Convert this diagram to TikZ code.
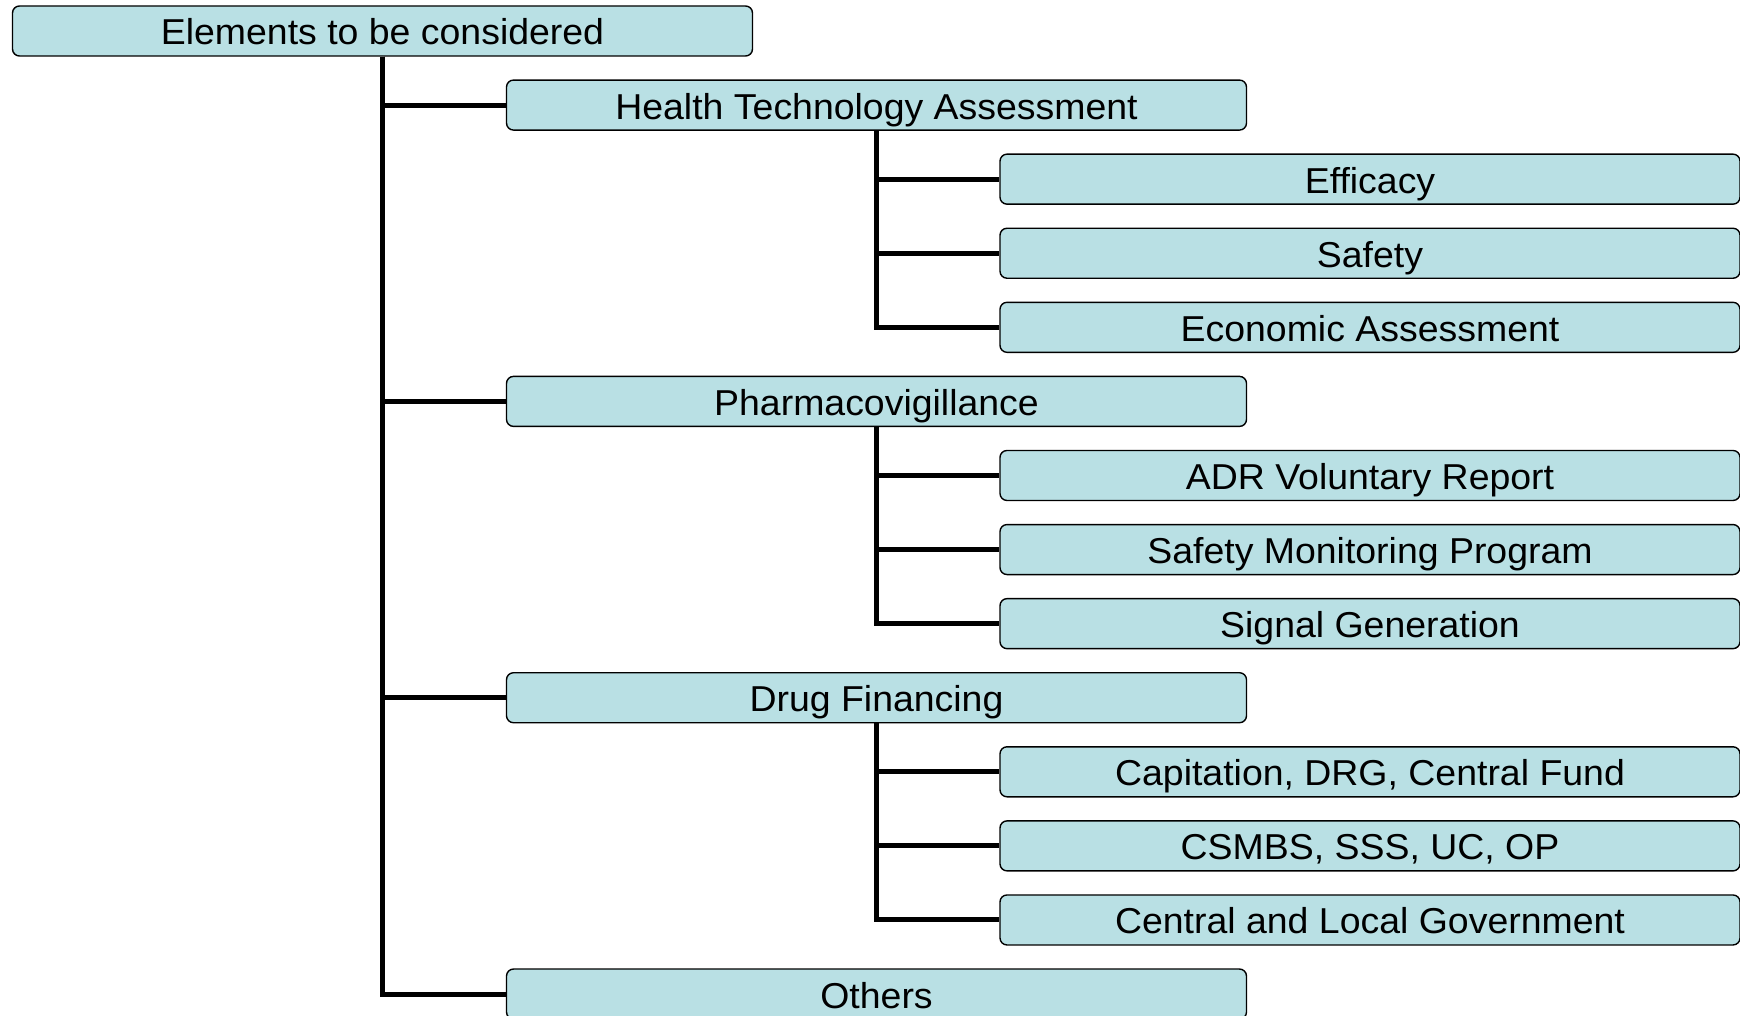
\documentclass[tikz,border=0pt]{standalone}
\usepackage{fontspec}
\setmainfont[FakeStretch=1.04]{Liberation Sans}
\definecolor{boxfill}{RGB}{185,224,228}
\begin{document}
\begin{tikzpicture}[x=1pt,y=-1pt,
  elbox/.style={draw=black,line width=1.4pt,fill=boxfill,rounded corners=7pt,
    minimum width=740pt,minimum height=50pt,inner sep=0pt,
    text height=28pt,text depth=0pt,
    font=\fontsize{36}{40}\selectfont},
  conn/.style={line width=5pt,line join=miter}]
\clip (0,0) rectangle (1740,1016);
\fill[white] (0,0) rectangle (1740,1016);
\def\rowy#1{31+74.08*#1}
\node[elbox] (top) at (382.5,31) {Elements to be considered};
\node[elbox] (hta) at (876.5,{\rowy{1}}) {Health Technology Assessment};
\node[elbox] (eff) at (1370,{\rowy{2}}) {Efficacy};
\node[elbox] (saf) at (1370,{\rowy{3}}) {Safety};
\node[elbox] (eco) at (1370,{\rowy{4}}) {Economic Assessment};
\node[elbox] (pv)  at (876.5,{\rowy{5}}) {Pharmacovigillance};
\node[elbox] (adr) at (1370,{\rowy{6}}) {ADR Voluntary Report};
\node[elbox] (smp) at (1370,{\rowy{7}}) {Safety Monitoring Program};
\node[elbox] (sig) at (1370,{\rowy{8}}) {Signal Generation};
\node[elbox] (df)  at (876.5,{\rowy{9}}) {Drug Financing};
\node[elbox] (cap) at (1370,{\rowy{10}}) {Capitation, DRG, Central Fund};
\node[elbox] (csm) at (1370,{\rowy{11}}) {CSMBS, SSS, UC, OP};
\node[elbox] (clg) at (1370,{\rowy{12}}) {Central and Local Government};
\node[elbox] (oth) at (876.5,{\rowy{13}}) {Others};
\draw[conn] (top.south) |- (oth.west);
\foreach \c in {hta,pv,df} \draw[conn] (top.south) |- (\c.west);
\draw[conn] (hta.south) |- (eco.west);
\foreach \c in {eff,saf} \draw[conn] (hta.south) |- (\c.west);
\draw[conn] (pv.south) |- (sig.west);
\foreach \c in {adr,smp} \draw[conn] (pv.south) |- (\c.west);
\draw[conn] (df.south) |- (clg.west);
\foreach \c in {cap,csm} \draw[conn] (df.south) |- (\c.west);
\end{tikzpicture}
\end{document}
